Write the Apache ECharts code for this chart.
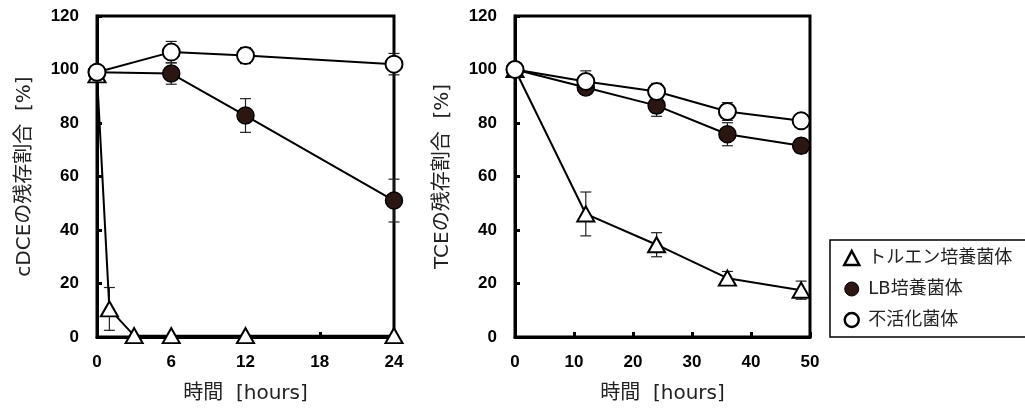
<!DOCTYPE html>
<html>
<head>
<meta charset="utf-8">
<script src="https://cdn.jsdelivr.net/npm/echarts@6/dist/echarts.min.js"></script>
<style>
  html, body { margin: 0; padding: 0; background: #fff; }
  #chart { width: 1025px; height: 412px; }
</style>
</head>
<body>
<div id="chart"></div>
<script>
// 系列名
var seriesNames = ['トルエン培養菌体', 'LB培養菌体', '不活化菌体']

// cDCE (左)
var cdceTolX = [0, 1, 3, 6, 12, 24]
var cdceTolY = [98, 10.5, 0.5, 0.5, 0.5, 0.5]
var cdceTolErr = [0, 8, 0, 0, 0, 0]
var cdceCircX = [0, 6, 12, 24]
var cdceLbY = [99, 98.5, 82.8, 51]
var cdceLbErr = [0, 4, 6.3, 8]
var cdceInY = [99, 106.5, 105.2, 102]
var cdceInErr = [0, 4, 3, 4]

// TCE (右)
var tceX = [0, 12, 24, 36, 48.5]
var tceTolY = [100, 46, 34.5, 22, 17.5]
var tceTolErr = [0, 8.2, 4.5, 2.5, 3.4]
var tceLbY = [100, 93.3, 86.5, 75.8, 71.5]
var tceLbErr = [0, 2.6, 4, 4.3, 2.7]
var tceInY = [100, 95.5, 91.8, 84.3, 80.8]
var tceInErr = [0, 4, 3, 3.3, 1]

var filledColor = '#2b1612'
var jpFont = '"DejaVu Sans", "Noto Sans CJK JP", sans-serif'

function pairs(xs, ys) {
  return xs.map(function (x, i) { return [x, ys[i]] })
}
function errData(xs, ys, es) {
  var out = []
  for (var i = 0; i < xs.length; i++) {
    if (es[i] > 0) out.push([xs[i], ys[i], es[i]])
  }
  return out
}

function renderErr(params, api) {
  var x = api.value(0)
  var y = api.value(1)
  var e = api.value(2)
  var top = api.coord([x, y + e])
  var bot = api.coord([x, y - e])
  var half = 5.5
  var style = { stroke: '#222', lineWidth: 1.2 }
  return {
    type: 'group',
    children: [
      { type: 'line', shape: { x1: top[0], y1: top[1], x2: bot[0], y2: bot[1] }, style: style },
      { type: 'line', shape: { x1: top[0] - half, y1: top[1], x2: top[0] + half, y2: top[1] }, style: style },
      { type: 'line', shape: { x1: bot[0] - half, y1: bot[1], x2: bot[0] + half, y2: bot[1] }, style: style }
    ]
  }
}

function errSeries(idx, data) {
  return {
    type: 'custom',
    xAxisIndex: idx,
    yAxisIndex: idx,
    renderItem: renderErr,
    data: data,
    clip: false,
    z: 1,
    silent: true
  }
}

var markStyles = [
  { color: '#fff', borderColor: '#000', borderWidth: 2 },
  { color: filledColor, borderColor: '#000', borderWidth: 1.5 },
  { color: '#fff', borderColor: '#000', borderWidth: 2 }
]
// 凡例のアイコン
var legendStyles = [
  { color: '#fff', borderColor: '#000', borderWidth: 2.5 },
  { color: filledColor, borderColor: '#000', borderWidth: 1 },
  { color: '#fff', borderColor: '#000', borderWidth: 2.5 }
]

function lineSeries(idx, kind, data) {
  return {
    type: 'line',
    name: seriesNames[kind],
    xAxisIndex: idx,
    yAxisIndex: idx,
    data: data,
    clip: false,
    z: 2 + kind,
    symbol: kind === 0 ? 'triangle' : 'circle',
    symbolSize: kind === 0 ? [17, 15] : 17,
    itemStyle: markStyles[kind],
    lineStyle: { color: '#000', width: 2 },
    emphasis: { disabled: true }
  }
}

function xAxisOpt(idx, max, interval) {
  return {
    type: 'value',
    gridIndex: idx,
    min: 0,
    max: max,
    interval: interval,
    name: '時間  [hours]',
    nameLocation: 'middle',
    nameGap: 47,
    nameTextStyle: { fontFamily: jpFont, fontSize: 20, color: '#222' },
    axisLine: { show: true, onZero: false, lineStyle: { color: '#000', width: 3 } },
    axisTick: { show: true, inside: true, length: 5, lineStyle: { color: '#000', width: 3 } },
    axisLabel: { margin: 17, fontFamily: '"Liberation Sans", Arial, sans-serif', fontWeight: 'bold', fontSize: 17, color: '#000' },
    splitLine: { show: false }
  }
}

function yAxisOpt(idx, name) {
  return {
    type: 'value',
    gridIndex: idx,
    min: 0,
    max: 120,
    interval: 20,
    name: name,
    nameLocation: 'middle',
    nameRotate: 90,
    nameGap: 62,
    nameTextStyle: { fontFamily: jpFont, fontSize: 20, color: '#222' },
    axisLine: { show: true, onZero: false, lineStyle: { color: '#000', width: 3 } },
    axisTick: { show: true, inside: true, length: 5, lineStyle: { color: '#000', width: 3 } },
    axisLabel: { margin: 18, fontFamily: '"Liberation Sans", Arial, sans-serif', fontWeight: 'bold', fontSize: 17, color: '#000' },
    splitLine: { show: false }
  }
}

var chart = echarts.init(document.getElementById('chart'), null, { renderer: 'canvas' })

chart.setOption({
  animation: false,
  backgroundColor: '#fff',
  grid: [
    { left: 97, top: 16, width: 297, height: 321, show: true, borderColor: '#000', borderWidth: 3, containLabel: false },
    { left: 515, top: 16, width: 295, height: 321, show: true, borderColor: '#000', borderWidth: 3, containLabel: false }
  ],
  xAxis: [xAxisOpt(0, 24, 6), xAxisOpt(1, 50, 10)],
  yAxis: [yAxisOpt(0, 'cDCEの残存割合  [%]'), yAxisOpt(1, 'TCEの残存割合  [%]')],
  legend: {
    orient: 'vertical',
    left: 830,
    top: 240,
    padding: [9, 14, 8, 13],
    itemGap: 13,
    itemWidth: 15,
    itemHeight: 14,
    borderColor: '#000',
    borderWidth: 1.5,
    borderRadius: 0,
    backgroundColor: '#fff',
    selectedMode: false,
    textStyle: { fontFamily: jpFont, fontSize: 18, color: '#222', padding: [0, 0, 0, 4] },
    data: [
      { name: seriesNames[0], icon: 'triangle', itemStyle: legendStyles[0] },
      { name: seriesNames[1], icon: 'circle', itemStyle: legendStyles[1] },
      { name: seriesNames[2], icon: 'circle', itemStyle: legendStyles[2] }
    ]
  },
  series: [
    errSeries(0, errData(cdceTolX, cdceTolY, cdceTolErr)),
    errSeries(0, errData(cdceCircX, cdceLbY, cdceLbErr)),
    errSeries(0, errData(cdceCircX, cdceInY, cdceInErr)),
    lineSeries(0, 0, pairs(cdceTolX, cdceTolY)),
    lineSeries(0, 1, pairs(cdceCircX, cdceLbY)),
    lineSeries(0, 2, pairs(cdceCircX, cdceInY)),
    errSeries(1, errData(tceX, tceTolY, tceTolErr)),
    errSeries(1, errData(tceX, tceLbY, tceLbErr)),
    errSeries(1, errData(tceX, tceInY, tceInErr)),
    lineSeries(1, 0, pairs(tceX, tceTolY)),
    lineSeries(1, 1, pairs(tceX, tceLbY)),
    lineSeries(1, 2, pairs(tceX, tceInY))
  ]
})
</script>
</body>
</html>
